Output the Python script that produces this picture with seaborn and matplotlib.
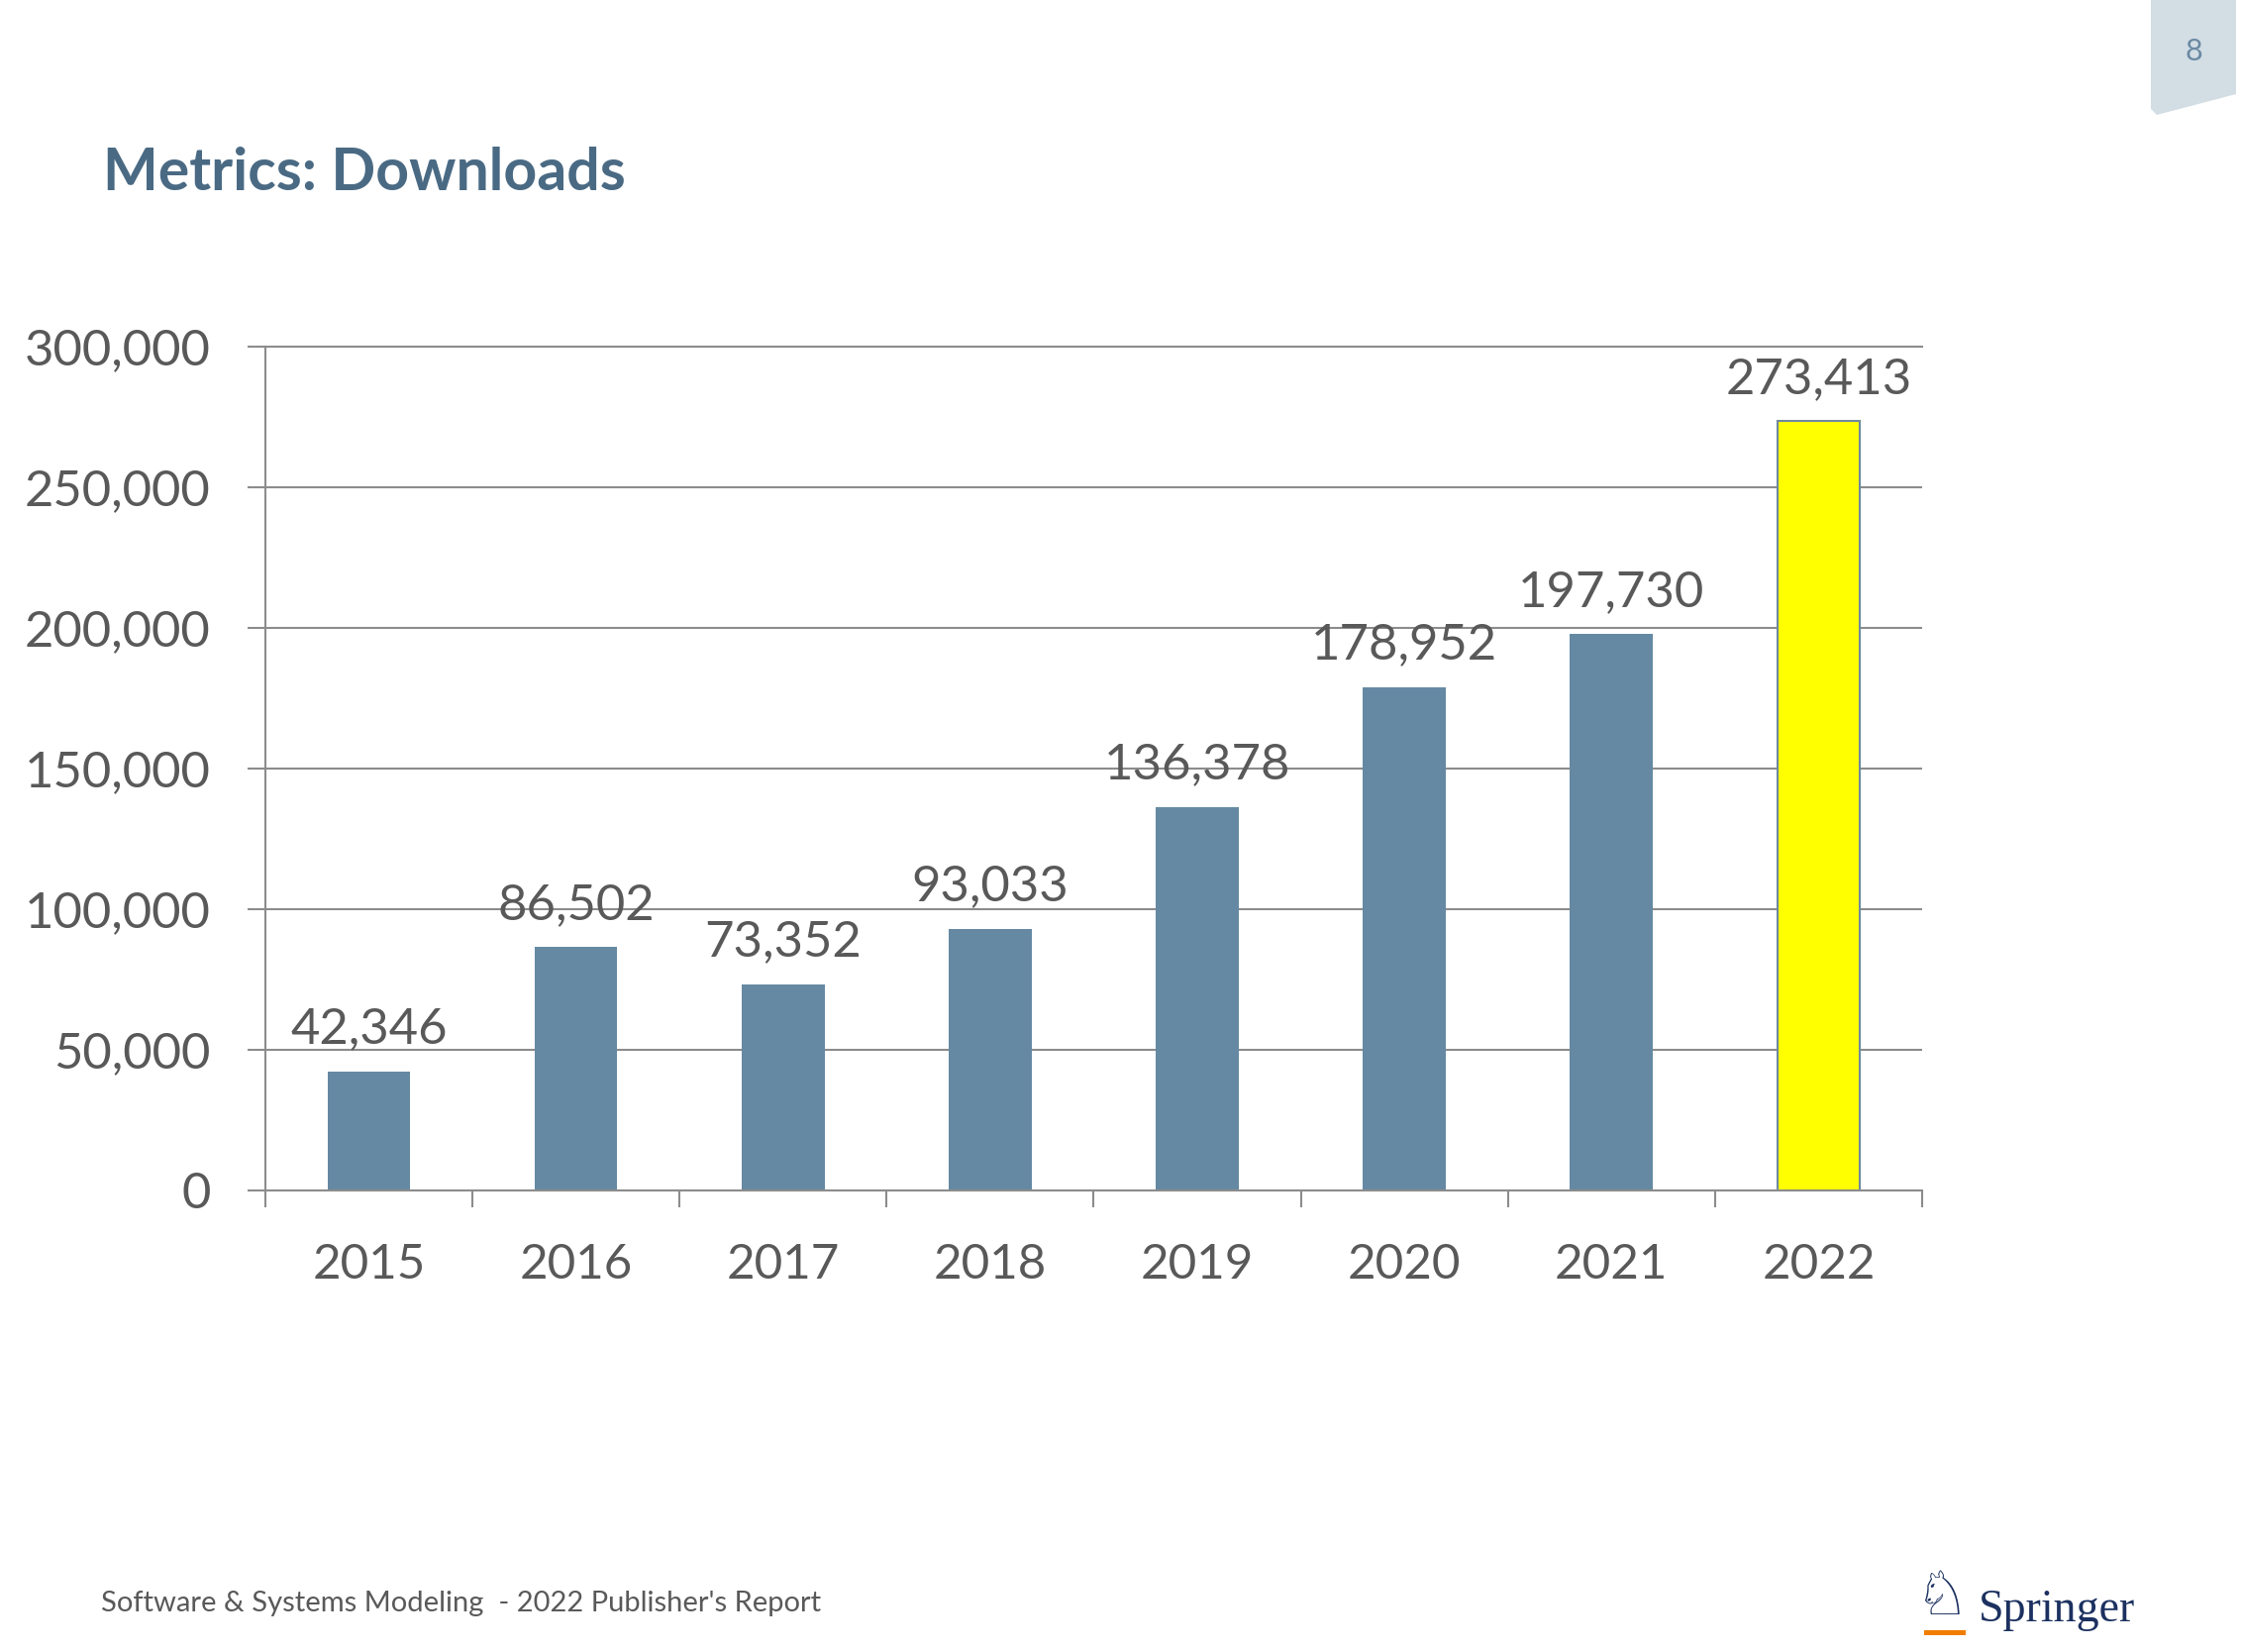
import matplotlib
matplotlib.use("Agg")
import matplotlib.pyplot as plt
from matplotlib.patches import Polygon, Rectangle
from matplotlib.ticker import StrMethodFormatter
import seaborn as sns
import pandas as pd
import numpy as np

# data
years = ["2015", "2016", "2017", "2018", "2019", "2020", "2021", "2022"]
downloads = [42346, 86502, 73352, 93033, 136378, 178952, 197730, 273413]
y_ticks = [0, 50000, 100000, 150000, 200000, 250000, 300000]

title = "Metrics: Downloads"
footer = "Software & Systems Modeling  - 2022 Publisher's Report"
page_no = "8"

blue = "#6589A3"
yellow = "#FFFF00"
grey = "#8C8C8C"
text_grey = "#595959"
bar_colors = [blue] * 7 + [yellow]

sns.set_theme(style="white")
plt.rcParams["font.family"] = ["Lato", "DejaVu Sans"]

df = pd.DataFrame({"year": years, "downloads": downloads})

fig = plt.figure(figsize=(22.63, 16.68), dpi=100)
fig.patch.set_facecolor("white")
ax = fig.add_axes([0.1184, 0.2794, 0.7393, 0.5108])

sns.barplot(data=df, x="year", y="downloads", hue="year", palette=bar_colors,
            legend=False, width=0.4, saturation=1, ax=ax)

for i, p in enumerate(ax.patches):
    if i == len(years) - 1:
        p.set_edgecolor("#6F88A0")
        p.set_linewidth(1.5)
    else:
        p.set_linewidth(0)

# value labels above bars
for c in ax.containers:
    ax.bar_label(c, labels=[f"{int(round(v)):,}" for v in c.datavalues],
                 padding=14, fontsize=36.5, color=text_grey)

ax.set_xlim(-0.5, len(years) - 0.5)
ax.set_ylim(0, 300000)
ax.set_yticks(y_ticks)
ax.yaxis.set_major_formatter(StrMethodFormatter("{x:,.0f}"))
ax.set_xlabel("")
ax.set_ylabel("")

ax.yaxis.grid(True, color=grey, lw=1.5)
ax.set_axisbelow(True)

for side in ["left", "bottom", "top"]:
    ax.spines[side].set_visible(True)
    ax.spines[side].set_color(grey)
    ax.spines[side].set_linewidth(1.5)
ax.spines["right"].set_visible(False)

ax.tick_params(axis="y", which="major", direction="out", length=13, width=1.5,
               color=grey, pad=27, labelsize=36.5, labelcolor=text_grey, left=True)
ax.set_xticks(np.arange(-0.5, len(years), 1), minor=True)
ax.tick_params(axis="x", which="major", length=0, pad=38, labelsize=35.5,
               labelcolor=text_grey)
ax.tick_params(axis="x", which="minor", direction="out", length=12, width=1.5,
               color=grey, bottom=True)

# slide decorations
fig.text(0.046, 0.895, title, fontsize=42.5, fontweight="bold", color="#4A6A84",
         va="center", ha="left")
fig.text(0.045, 0.0294, footer, fontsize=21, color=text_grey, va="center", ha="left")

W, H = 2263, 1668
tab = Polygon([(2172 / W, 1), (2258 / W, 1), (2258 / W, 1 - 95 / H),
               (2178 / W, 1 - 116 / H), (2172 / W, 1 - 110 / H)],
              closed=True, transform=fig.transFigure, facecolor="#D3DDE4",
              edgecolor="none")
fig.add_artist(tab)
fig.text(2215 / W, 1 - 52 / H, page_no, fontsize=22, color="#6A8AA3",
         ha="center", va="center")

# springer logo
fig.text(1961 / W, 1 - 1614 / H, "\u2658", family=["DejaVu Sans"], fontsize=44,
         color="#1C3160", ha="center", va="center")
fig.add_artist(Rectangle((1943 / W, 1 - 1651 / H), 42 / W, 5 / H,
                         transform=fig.transFigure, facecolor="#F07D00",
                         edgecolor="none"))
fig.text(1998 / W, 1 - 1637 / H, "Springer", family=["Liberation Serif"],
         fontsize=33, color="#1C3160", ha="left", va="baseline")

fig.savefig("out.png", dpi=100, facecolor="white")
